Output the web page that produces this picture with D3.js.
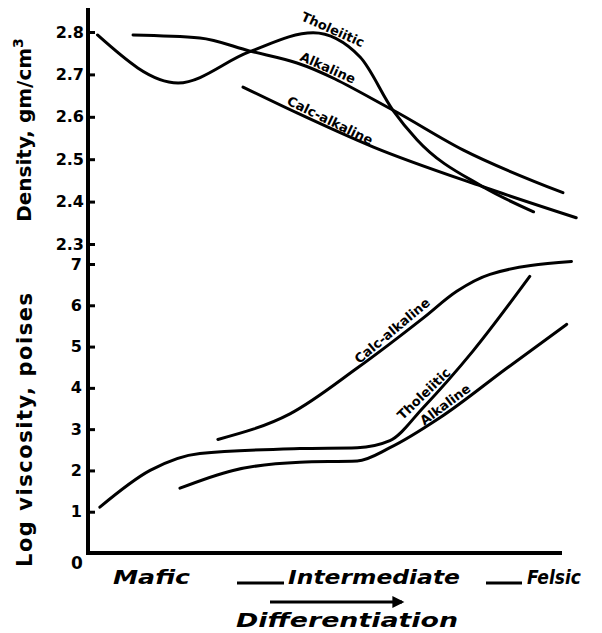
<!DOCTYPE html>
<html>
<head>
<meta charset="utf-8" />
<title>Density and viscosity vs differentiation</title>
<style>
  body { margin: 0; background: #fff; }
  text { font-family: "DejaVu Sans", sans-serif; font-weight: bold; fill: #000; }
</style>
</head>
<body>
<script src="https://d3js.org/d3.v7.min.js"></script>
<script>
// differentiation index (0 = mafic, 100 = felsic) and values
var densityTicks = [2.3, 2.4, 2.5, 2.6, 2.7, 2.8];
var viscosityTicks = [1, 2, 3, 4, 5, 6, 7];
var xLabels = ["Mafic", "Intermediate", "Felsic"];

var densTholX = [2, 19, 34, 47.5, 57.4, 64.3, 69.4, 83.3, 94];
var densTholY = [2.793, 2.68, 2.753, 2.798, 2.741, 2.616, 2.546, 2.435, 2.376];
var densAlkX = [9.5, 23.6, 34.2, 44.1, 64.3, 79.1, 100.2];
var densAlkY = [2.793, 2.786, 2.755, 2.727, 2.616, 2.522, 2.421];
var densCalcX = [32.7, 44.1, 60.1, 83.3, 103];
var densCalcY = [2.67, 2.609, 2.529, 2.435, 2.362];

var viscCalcX = [27.4, 42.6, 56.8, 70.7, 77.8, 84.8, 102];
var viscCalcY = [2.75, 3.37, 4.48, 5.69, 6.34, 6.75, 7.06];
var viscTholX = [2.5, 13.1, 23.6, 44.7, 56.8, 63.7, 70.7, 81.2, 93.2];
var viscTholY = [1.11, 2.0, 2.41, 2.53, 2.55, 2.72, 3.52, 4.89, 6.7];
var viscAlkX = [19.4, 30.6, 44.7, 56.8, 63.7, 74.3, 88.4, 101];
var viscAlkY = [1.57, 2.0, 2.2, 2.23, 2.55, 3.28, 4.48, 5.54];

var width = 602, height = 633;
var svg = d3.select("body").append("svg")
    .attr("width", width)
    .attr("height", height);

var x = d3.scaleLinear().domain([0, 100]).range([88, 562]);
var yDens = d3.scaleLinear().domain([2.3, 2.8]).range([244, 32]);
var yVisc = d3.scaleLinear().domain([0, 7]).range([553, 264]);

function zip(xs, ys) { return xs.map((v, i) => [v, ys[i]]); }

function drawCurve(xs, ys, yScale) {
    var line = d3.line()
        .x(d => x(d[0]))
        .y(d => yScale(d[1]))
        .curve(d3.curveMonotoneX);
    return svg.append("path")
        .attr("d", line(zip(xs, ys)))
        .attr("fill", "none")
        .attr("stroke", "#000")
        .attr("stroke-width", 3)
        .attr("stroke-linecap", "round")
        .node();
}

var curves = {
    densThol: drawCurve(densTholX, densTholY, yDens),
    densAlk: drawCurve(densAlkX, densAlkY, yDens),
    densCalc: drawCurve(densCalcX, densCalcY, yDens),
    viscCalc: drawCurve(viscCalcX, viscCalcY, yVisc),
    viscThol: drawCurve(viscTholX, viscTholY, yVisc),
    viscAlk: drawCurve(viscAlkX, viscAlkY, yVisc)
};

// point on a drawn curve at a given pixel x (curves are monotone in x)
function pointAt(node, px) {
    var lo = 0, hi = node.getTotalLength();
    for (var i = 0; i < 40; i++) {
        var mid = (lo + hi) / 2;
        if (node.getPointAtLength(mid).x < px) lo = mid; else hi = mid;
    }
    return node.getPointAtLength(lo);
}

// axes
function styleAxis(g) {
    g.select(".domain").remove();
    g.selectAll(".tick line").attr("stroke", "#000").attr("stroke-width", 3);
    g.selectAll(".tick text").style("font-size", "16px").style("font-weight", "bold")
        .style("font-family", "DejaVu Sans, sans-serif");
}
svg.append("g")
    .attr("transform", "translate(88,0)")
    .call(d3.axisLeft(yDens).tickValues(densityTicks).tickFormat(d3.format(".1f"))
        .tickSizeInner(-7).tickSizeOuter(0).tickPadding(4))
    .call(styleAxis);
svg.append("g")
    .attr("transform", "translate(88,0)")
    .call(d3.axisLeft(yVisc).tickValues(viscosityTicks).tickFormat(d3.format("d"))
        .tickSizeInner(-7).tickSizeOuter(0).tickPadding(6))
    .call(styleAxis);

svg.append("line").attr("x1", 88).attr("x2", 88).attr("y1", 8).attr("y2", 555)
    .attr("stroke", "#000").attr("stroke-width", 4);
svg.append("line").attr("x1", 86).attr("x2", x(100)).attr("y1", yVisc(0)).attr("y2", yVisc(0))
    .attr("stroke", "#000").attr("stroke-width", 4);

svg.append("text").attr("x", 77).attr("y", 569).attr("text-anchor", "middle")
    .style("font-size", "17px").text("0");

// axis titles
var dens = svg.append("text")
    .attr("transform", "translate(31,130) rotate(-90)")
    .attr("text-anchor", "middle")
    .style("font-size", "20px");
dens.append("tspan").text("Density, gm/cm");
dens.append("tspan").attr("dy", -8).style("font-size", "14px").text("3");

svg.append("text")
    .attr("transform", "translate(32,430) rotate(-90)")
    .attr("text-anchor", "middle")
    .style("font-size", "21px")
    .attr("textLength", 274)
    .text("Log viscosity, poises");

// x labels: start x and width in pixels, dashes drawn before the last two
var xLabelX = [113, 288, 527];
var xLabelW = [77, 172, 54];
svg.selectAll(".xlab")
    .data(xLabels)
    .enter().append("text")
    .attr("class", "xlab")
    .attr("x", (d, i) => xLabelX[i])
    .attr("y", 584)
    .attr("textLength", (d, i) => xLabelW[i])
    .attr("lengthAdjust", "spacingAndGlyphs")
    .style("font-size", "20px")
    .style("font-style", "italic")
    .text(d => d);
[[237, 284], [486, 522]].forEach(function (s) {
    svg.append("line").attr("x1", s[0]).attr("x2", s[1]).attr("y1", 583).attr("y2", 583)
        .attr("stroke", "#000").attr("stroke-width", 3);
});

svg.append("defs").append("marker")
    .attr("id", "arrow").attr("viewBox", "0 0 10 10")
    .attr("refX", 8).attr("refY", 5)
    .attr("markerWidth", 5).attr("markerHeight", 4)
    .attr("orient", "auto")
    .append("path").attr("d", "M0,0 L10,5 L0,10 z").attr("fill", "#000");
svg.append("line")
    .attr("x1", 270).attr("x2", 402).attr("y1", 602).attr("y2", 602)
    .attr("stroke", "#000").attr("stroke-width", 3)
    .attr("marker-end", "url(#arrow)");

svg.append("text").attr("x", 236).attr("y", 627)
    .attr("textLength", 222).attr("lengthAdjust", "spacingAndGlyphs")
    .style("font-size", "20px").style("font-style", "italic")
    .text("Differentiation");

// curve labels: pixel x along the curve, angle, offset above the curve
var curveLabels = [
    {t: "Tholeiitic", c: "densThol", px: 330, a: 24, off: -7},
    {t: "Alkaline", c: "densAlk", px: 325, a: 24, off: -7},
    {t: "Calc-alkaline", c: "densCalc", px: 327, a: 26, off: -7},
    {t: "Calc-alkaline", c: "viscCalc", px: 398, a: -40, off: -9},
    {t: "Tholeiitic", c: "viscThol", px: 430, a: -44, off: -9},
    {t: "Alkaline", c: "viscAlk", px: 450, a: -37, off: -8}
];
svg.selectAll(".clab")
    .data(curveLabels)
    .enter().append("text")
    .attr("class", "clab")
    .attr("transform", function (d) {
        var p = pointAt(curves[d.c], d.px);
        return "translate(" + p.x + "," + p.y + ") rotate(" + d.a + ")";
    })
    .attr("y", d => d.off)
    .attr("text-anchor", "middle")
    .attr("dominant-baseline", "central")
    .style("font-size", "13px")
    .text(d => d.t);
</script>
</body>
</html>
